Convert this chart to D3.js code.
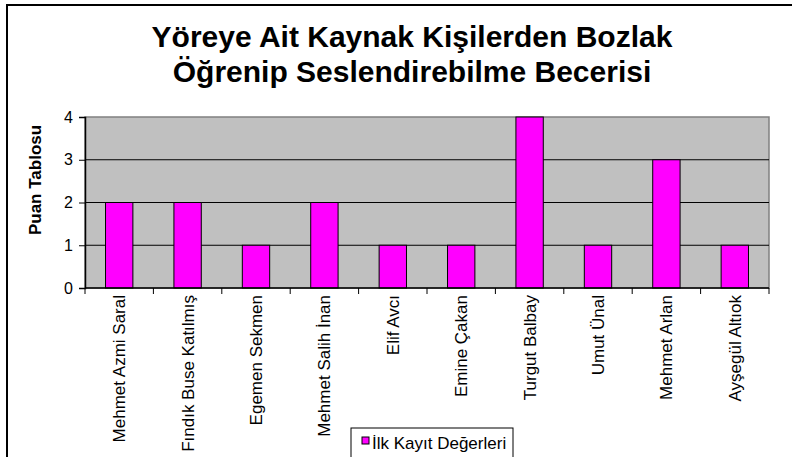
<!DOCTYPE html>
<html lang="tr">
<head>
<meta charset="UTF-8" />
<title>Bozlak Becerisi</title>
<script src="https://d3js.org/d3.v7.min.js"></script>
<style>
  body { margin: 0; background: #fff; }
  svg { display: block; font-family: "Liberation Sans", Arial, sans-serif; }
</style>
</head>
<body>
<script>
const names = ["Mehmet Azmi Saral", "Fındık Buse Katılmış", "Egemen Sekmen", "Mehmet Salih İnan",
  "Elif Avcı", "Emine Çakan", "Turgut Balbay", "Umut Ünal", "Mehmet Arlan", "Ayşegül Altıok"];
const scores = [2, 2, 1, 2, 1, 1, 4, 1, 3, 1];
const yTicks = [0, 1, 2, 3, 4];
const titleLines = ["Yöreye Ait Kaynak Kişilerden Bozlak", "Öğrenip Seslendirebilme Becerisi"];
const seriesName = "İlk Kayıt Değerleri";

const W = 792, H = 457;
const plot = { left: 85, right: 769, top: 117, bottom: 288 };

const svg = d3.select("body").append("svg").attr("width", W).attr("height", H);

// outer chart frame (runs off the right and bottom)
svg.append("rect")
  .attr("x", 7).attr("y", 5).attr("width", 800).attr("height", 470)
  .attr("fill", "#fff").attr("stroke", "#000").attr("stroke-width", 2);

const x = d3.scaleBand().domain(names).range([plot.left, plot.right])
  .paddingInner(0.6).paddingOuter(0.3);
const y = d3.scaleLinear().domain([0, 4]).range([plot.bottom, plot.top]);

// plot background
svg.append("rect")
  .attr("x", plot.left).attr("y", plot.top)
  .attr("width", plot.right - plot.left).attr("height", plot.bottom - plot.top)
  .attr("fill", "#c0c0c0").attr("stroke", "#808080").attr("stroke-width", 1.5);

// gridlines
svg.append("g").selectAll("line")
  .data(yTicks.filter(d => d > 0 && d < 4))
  .join("line")
  .attr("x1", plot.left).attr("x2", plot.right)
  .attr("y1", d => y(d)).attr("y2", d => y(d))
  .attr("stroke", "#000").attr("stroke-width", 1);

// bars
svg.append("g").selectAll("rect")
  .data(scores)
  .join("rect")
  .attr("x", (d, i) => x(names[i]))
  .attr("y", d => y(d))
  .attr("width", x.bandwidth())
  .attr("height", d => y(0) - y(d))
  .attr("fill", "#ff00ff").attr("stroke", "#000").attr("stroke-width", 1);

// y axis
const yAxis = svg.append("g")
  .attr("transform", `translate(${plot.left},0)`)
  .call(d3.axisLeft(y).tickValues(yTicks).tickFormat(d3.format("d")).tickSize(6).tickPadding(6));
yAxis.select(".domain").attr("stroke", "#000").attr("stroke-width", 1.5);
yAxis.selectAll(".tick line").attr("stroke", "#000");
yAxis.selectAll("text").attr("font-size", 16).attr("fill", "#000")
  .attr("font-family", "Liberation Sans, Arial, sans-serif");

// x axis: ticks on category boundaries
const xAxis = svg.append("g").attr("transform", `translate(0,${plot.bottom})`);
xAxis.append("line")
  .attr("x1", plot.left).attr("x2", plot.right)
  .attr("stroke", "#000").attr("stroke-width", 1.5);
xAxis.selectAll("line.tk")
  .data(d3.range(names.length + 1))
  .join("line").attr("class", "tk")
  .attr("x1", i => plot.left + i * x.step()).attr("x2", i => plot.left + i * x.step())
  .attr("y1", 0).attr("y2", 6)
  .attr("stroke", "#000");
xAxis.selectAll("text")
  .data(names)
  .join("text")
  .attr("transform", d => `translate(${x(d) + x.bandwidth() / 2},7) rotate(-90)`)
  .attr("text-anchor", "end")
  .attr("dy", "0.35em")
  .attr("font-size", 17)
  .text(d => d);

// y axis title
svg.append("text")
  .attr("transform", "translate(35,180) rotate(-90)")
  .attr("text-anchor", "middle")
  .attr("dy", "0.35em")
  .attr("font-size", 17).attr("font-weight", "bold")
  .text("Puan Tablosu");

// chart title
svg.append("g").selectAll("text")
  .data(titleLines)
  .join("text")
  .attr("x", 412).attr("y", (d, i) => 47 + i * 35)
  .attr("text-anchor", "middle")
  .attr("font-size", 30).attr("font-weight", "bold")
  .text(d => d);

// legend
const lg = svg.append("g").attr("transform", "translate(351,428)");
lg.append("rect").attr("width", 162).attr("height", 40)
  .attr("fill", "#fff").attr("stroke", "#000").attr("stroke-width", 1);
lg.append("rect").attr("x", 11).attr("y", 9).attr("width", 7).attr("height", 7)
  .attr("fill", "#ff00ff").attr("stroke", "#000").attr("stroke-width", 1);
lg.append("text").attr("x", 21).attr("y", 21).attr("font-size", 17).text(seriesName);
</script>
</body>
</html>
